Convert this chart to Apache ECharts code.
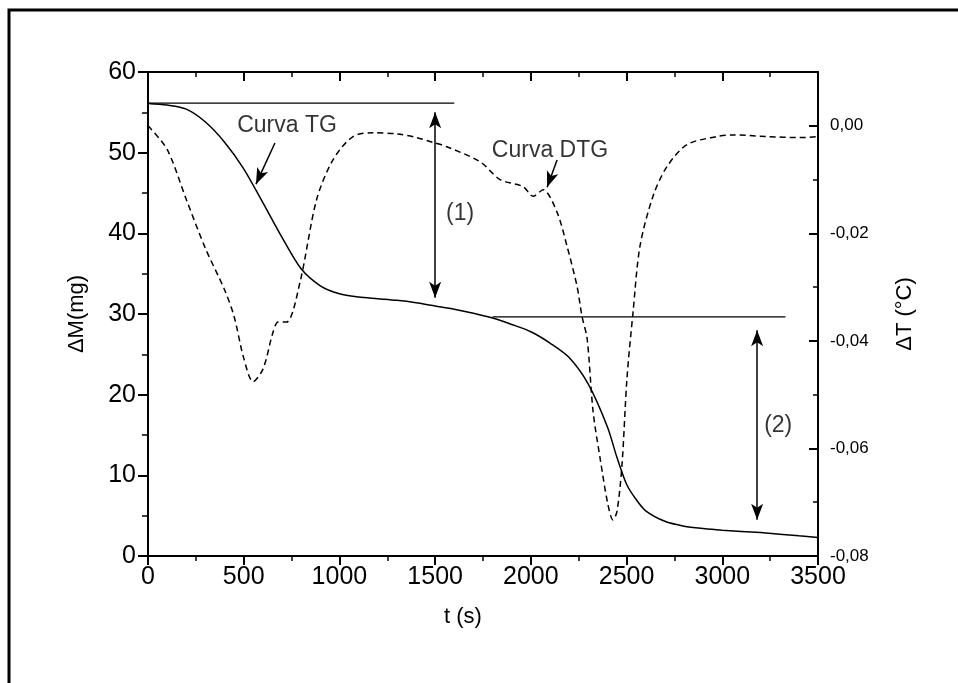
<!DOCTYPE html>
<html>
<head>
<meta charset="utf-8">
<script src="https://cdn.jsdelivr.net/npm/echarts@6/dist/echarts.min.js"></script>
<style>
  html, body { margin: 0; padding: 0; background: #fff; }
  #chart { width: 958px; height: 683px; }
</style>
</head>
<body>
<div id="chart"></div>
<script>
// curva TG (massa, eixo esquerdo)
const tgTime = [0, 100, 200, 300, 400, 500, 600, 700, 800, 900, 1000, 1100, 1200, 1300, 1400, 1500, 1600, 1700, 1800, 1900, 2000, 2100, 2200, 2300, 2400, 2450, 2500, 2550, 2600, 2700, 2800, 2900, 3000, 3200, 3400, 3500];
const tgMass = [56.1, 55.9, 55.4, 53.8, 51.3, 48.0, 43.8, 39.5, 35.6, 33.5, 32.5, 32.1, 31.9, 31.7, 31.4, 31.0, 30.6, 30.1, 29.5, 28.7, 27.8, 26.4, 24.6, 21.3, 16.0, 12.2, 8.9, 7.0, 5.6, 4.3, 3.7, 3.4, 3.2, 2.9, 2.5, 2.3];

// curva DTG (eixo direito)
const dtgTime = [0, 100, 200, 300, 400, 450, 500, 549, 601, 653, 680, 724, 794, 881, 967, 1071, 1176, 1300, 1404, 1489, 1561, 1735, 1839, 1959, 2012, 2064, 2137, 2189, 2241, 2267, 2294, 2325, 2362, 2403, 2429, 2450, 2476, 2502, 2534, 2570, 2638, 2711, 2816, 2973, 3056, 3232, 3406, 3500];
const dtgTemp = [0.000, -0.0044, -0.0137, -0.0228, -0.0305, -0.0355, -0.0432, -0.0476, -0.0452, -0.0384, -0.0365, -0.0365, -0.0291, -0.0137, -0.0063, -0.0020, -0.0013, -0.0015, -0.0022, -0.0031, -0.0039, -0.0067, -0.0100, -0.0113, -0.0131, -0.0119, -0.0161, -0.0224, -0.0298, -0.0354, -0.0396, -0.0531, -0.0619, -0.0705, -0.0733, -0.0717, -0.0631, -0.0470, -0.0346, -0.0224, -0.0131, -0.0076, -0.0035, -0.0020, -0.0017, -0.0020, -0.0022, -0.0020];

// linhas de referência e setas
const level1 = [[0, 56.15], [1600, 56.15]];
const level2 = [[1800, 29.65], [3330, 29.65]];
const arrow1 = [[1500, 55.0], [1500, 32.0]];
const arrow2 = [[3182, 28.0], [3182, 4.5]];
const pointerTG = [[663, 51.2], [564, 46.1]];
const pointerDTG = [[2137, 49.1], [2085, 45.7]];

// rótulos
const notes = [
  [726, 53.3, 'Curva TG'],
  [2100, 50.2, 'Curva DTG'],
  [1630, 42.5, '(1)'],
  [3292, 16.2, '(2)']
];

const font = '"Liberation Sans", Arial, sans-serif';

const zip = (a, b) => a.map((v, i) => [v, b[i]]);
const seg = (p, symbols) => [
  { coord: p[0], symbol: symbols[0] },
  { coord: p[1], symbol: symbols[1] }
];

const chart = echarts.init(document.getElementById('chart'));

const option = {
  animation: false,
  backgroundColor: '#fff',
  graphic: [{
    type: 'rect',
    shape: { x: 9, y: 10, width: 1200, height: 1000 },
    style: { fill: 'none', stroke: '#000', lineWidth: 3 }
  }],
  grid: { left: 148, right: 140, top: 72, bottom: 127 },
  xAxis: [{
    type: 'value', min: 0, max: 3500, interval: 500,
    name: 't (s)', nameLocation: 'middle', nameGap: 50,
    nameTextStyle: { fontFamily: font, fontSize: 22, color: '#000', padding: [0, 40, 0, 0] },
    axisLine: { onZero: false, lineStyle: { color: '#000', width: 2 } },
    axisTick: { length: 9, lineStyle: { width: 2 } },
    minorTick: { show: true, splitNumber: 2, length: 5, lineStyle: { color: '#000', width: 1.5 } },
    axisLabel: { fontFamily: font, fontSize: 25, color: '#000', margin: 9, formatter: v => String(v) },
    splitLine: { show: false }
  }, {
    type: 'value', min: 0, max: 3500, interval: 500, position: 'top',
    axisLine: { onZero: false, lineStyle: { color: '#000', width: 2 } },
    axisTick: { inside: true, length: 9, lineStyle: { width: 2 } },
    minorTick: { show: true, splitNumber: 2, length: 5, lineStyle: { color: '#000', width: 1.5 } },
    axisLabel: { show: false },
    splitLine: { show: false }
  }],
  yAxis: [{
    type: 'value', min: 0, max: 60, interval: 10,
    name: 'ΔM(mg)', nameLocation: 'middle', nameGap: 60,
    nameTextStyle: { fontFamily: font, fontSize: 22, color: '#000' },
    axisLine: { show: true, onZero: false, lineStyle: { color: '#000', width: 2 } },
    axisTick: { show: true, length: 10, lineStyle: { width: 2 } },
    minorTick: { show: true, splitNumber: 2, length: 6, lineStyle: { color: '#000', width: 1.5 } },
    axisLabel: { fontFamily: font, fontSize: 25, color: '#000', margin: 12 },
    splitLine: { show: false }
  }, {
    type: 'value', min: -0.08, max: 0.01, interval: 0.02, position: 'right',
    name: 'ΔT (°C)', nameLocation: 'middle', nameGap: 76, nameRotate: 90,
    nameTextStyle: { fontFamily: font, fontSize: 22, color: '#000' },
    axisLine: { show: true, onZero: false, lineStyle: { color: '#000', width: 2 } },
    axisTick: { show: true, inside: true, length: 9, lineStyle: { width: 2 } },
    minorTick: { show: true, splitNumber: 2, length: 5, lineStyle: { color: '#000', width: 1.5 } },
    axisLabel: {
      fontFamily: font, fontSize: 17, color: '#000', margin: 12, showMaxLabel: false,
      formatter: v => v.toFixed(2).replace('.', ',').replace('-0,00', '0,00')
    },
    splitLine: { show: false }
  }],
  series: [{
    name: 'Curva TG', type: 'line', yAxisIndex: 0,
    data: zip(tgTime, tgMass), smooth: 0.3, showSymbol: false,
    lineStyle: { color: '#000', width: 1.5 },
    markLine: {
      silent: true, animation: false, label: { show: false },
      lineStyle: { color: '#000', width: 1.5, type: 'solid' },
      symbolSize: [9, 16],
      data: [
        seg(arrow1, ['arrow', 'arrow']),
        seg(arrow2, ['arrow', 'arrow']),
        seg(pointerTG, ['none', 'arrow']),
        seg(pointerDTG, ['none', 'arrow'])
      ]
    }
  }, {
    name: 'Curva DTG', type: 'line', yAxisIndex: 1,
    data: zip(dtgTime, dtgTemp), smooth: 0.3, showSymbol: false,
    lineStyle: { color: '#000', width: 1.5, type: [6, 4] }
  }, {
    type: 'line', yAxisIndex: 0, data: level1, showSymbol: false,
    lineStyle: { color: '#000', width: 1.2 }
  }, {
    type: 'line', yAxisIndex: 0, data: level2, showSymbol: false,
    lineStyle: { color: '#000', width: 1.2 }
  }, {
    type: 'scatter', yAxisIndex: 0, symbolSize: 0,
    data: notes,
    label: {
      show: true, position: 'inside',
      formatter: p => p.data[2],
      fontFamily: font, fontSize: 23, color: '#000'
    }
  }]
};

chart.setOption(option);
</script>
</body>
</html>
